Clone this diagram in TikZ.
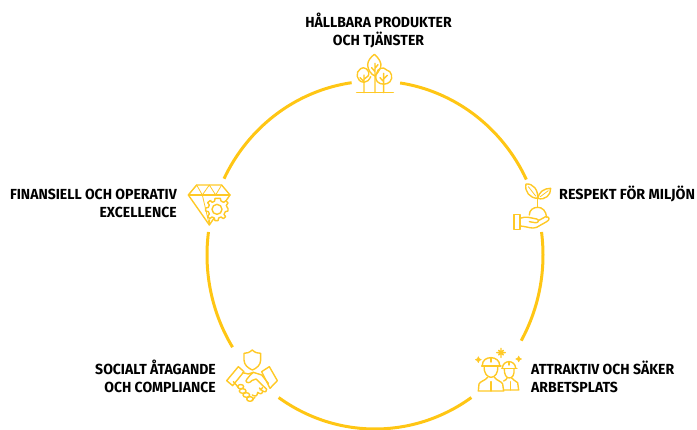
\documentclass[tikz,border=0pt]{standalone}
\usepackage{fontspec}
\setmainfont{Fira Sans}
\definecolor{ring}{HTML}{FFC614}
\definecolor{iconc}{HTML}{FFC926}
\tikzset{
  ringarc/.style={draw=ring,line width=3pt,line cap=butt},
  label/.style={font=\bfseries\fontsize{14.6}{18}\selectfont,text=black,inner sep=0pt},
  icon/.style={x=0.3333pt,y=-0.3333pt,draw=iconc,line width=1.4pt,line join=round,line cap=round},
}
\newcommand{\ringseg}[2]{\draw[ringarc,domain=#1:#2,samples=60,smooth,variable=\t] plot ({375+168*cos(\t)},{255+174*sin(\t)});}
\newcommand{\squeezed}[1]{\scalebox{0.96}[1]{#1}}
\begin{document}
\begin{tikzpicture}[x=1pt,y=-1pt]
\useasboundingbox (0,0) rectangle (697,430);
\ringseg{-81.4}{-25.7}
\ringseg{-7.6}{29.5}
\ringseg{55}{125}
\ringseg{148}{187.6}
\ringseg{206}{262}
\node[label,align=center] (top) at (378.5,30.5) {\squeezed{HÅLLBARA PRODUKTER}\\\squeezed{OCH TJÄNSTER}};
\node[label,anchor=west] (right) at (559,194) {\scalebox{0.98}[1]{RESPEKT FÖR MILJÖN}};
\node[label,align=left,anchor=west] (lowright) at (531,376.5) {\squeezed{ATTRAKTIV OCH SÄKER}\\\squeezed{ARBETSPLATS}};
\node[label,align=right,anchor=east] (lowleft) at (216,376) {\squeezed{SOCIALT ÅTAGANDE}\\\squeezed{OCH COMPLIANCE}};
\node[label,align=right,anchor=east] (left) at (177,203.5) {\squeezed{FINANSIELL OCH OPERATIV}\\\squeezed{EXCELLENCE}};
% trees
\begin{scope}[shift={(340,40)},icon]
\draw (50,158) -- (160,158);
\draw (72,158) -- (72,105) (72,125) -- (60,113) (72,118) -- (84,108);
\draw (85,108) .. controls (92,88) and (70,78) .. (62,86) .. controls (45,95) and (48,125) .. (72,127) .. controls (80,127) and (88,120) .. (92,110);
\draw (103,43) .. controls (92,52) and (83,62) .. (83,75) .. controls (83,90) and (95,105) .. (105,108) .. controls (112,100) and (118,92) .. (122,82) .. controls (127,70) and (115,52) .. (103,43);
\draw (105,158) -- (105,70) (105,95) -- (95,83) (105,85) -- (114,74);
\draw (110,100) .. controls (112,85) and (130,78) .. (140,90) .. controls (155,92) and (160,115) .. (150,125) .. controls (142,135) and (120,135) .. (112,125) .. controls (106,118) and (106,105) .. (110,100);
\draw (131,158) -- (131,100) (131,125) -- (120,113) (131,117) -- (142,106);
\end{scope}
% diamond and gear
\begin{scope}[shift={(175,170)},icon]
\draw (65,45) -- (140,45) -- (165,75) -- (103,165) -- (40,75) -- cycle;
\draw (40,75) -- (165,75);
\draw[line width=0.8pt] (40,75) -- (65,45) -- (82,75) -- (103,45) -- (122,75) -- (140,45);
\draw[line width=0.8pt] (82,75) -- (103,165) -- (108,90);
\draw[fill=white] (128,85)
 -- (136,85) -- (138,93) -- (146,97) -- (153,92) -- (159,99) -- (154,106) -- (157,113) -- (159,115)
 -- (159,123) -- (151,125) -- (147,133) -- (152,140) -- (145,146) -- (138,141) -- (131,144) -- (129,152)
 -- (120,152) -- (118,144) -- (111,141) -- (104,146) -- (98,139) -- (103,132) -- (100,125) -- (92,123)
 -- (92,114) -- (100,112) -- (103,105) -- (98,98) -- (105,92) -- (112,97) -- (119,93) -- (120,85) -- cycle;
\draw (126,118) circle[radius=15];
\end{scope}
% plant in hand
\begin{scope}[shift={(495,170)},icon]
\draw (128,112) -- (128,85);
\draw (128,85) .. controls (105,85) and (88,65) .. (93,42) .. controls (115,40) and (130,60) .. (128,85) -- cycle;
\draw (128,85) .. controls (132,65) and (148,55) .. (167,55) .. controls (168,75) and (150,92) .. (128,85);
\draw[line width=0.8pt] (100,50) -- (122,78) (160,62) -- (136,80);
\draw (103,135) .. controls (103,120) and (115,112) .. (128,112) .. controls (142,112) and (153,122) .. (155,142);
\draw (57,133) rectangle (75,178);
\draw (75,145) .. controls (85,142) and (92,140) .. (100,142) -- (125,147) .. controls (135,150) and (130,160) .. (120,158) -- (103,155);
\draw (130,152) -- (152,140) .. controls (165,140) and (165,150) .. (155,155) -- (125,172) .. controls (110,178) and (100,170) .. (75,168);
\end{scope}
% workers
\begin{scope}[shift={(465,340)},icon]
\draw (108,25) -- (108,52) (95,38) -- (121,38) (101,31) -- (115,45) (115,31) -- (101,45);
\draw[fill=iconc,line width=0.5pt] (40,50) -- (43,56) -- (49,59) -- (43,62) -- (40,68) -- (37,62) -- (31,59) -- (37,56) -- cycle;
\draw[fill=iconc,line width=0.5pt] (161,48) -- (164,54) -- (170,57) -- (164,60) -- (161,66) -- (158,60) -- (152,57) -- (158,54) -- cycle;
\draw (52,76) .. controls (52,60) and (65,53) .. (78,53) .. controls (92,53) and (104,62) .. (104,76);
\draw (50,78) -- (108,78) (78,53) -- (78,66);
\draw (58,78) .. controls (55,100) and (68,112) .. (78,112) .. controls (90,112) and (100,100) .. (98,78);
\draw (68,112) .. controls (60,122) and (45,124) .. (42,132) -- (40,153) -- (116,153) -- (113,132) .. controls (110,124) and (95,122) .. (88,112);
\draw (78,125) -- (78,153);
\draw (112,84) .. controls (113,72) and (122,65) .. (132,65) .. controls (143,65) and (151,73) .. (152,84);
\draw (110,86) -- (156,86) (132,65) -- (132,75);
\draw (118,86) .. controls (117,105) and (125,114) .. (133,114) .. controls (142,114) and (149,105) .. (147,86);
\draw (116,123) .. controls (122,120) and (125,118) .. (126,114) (140,114) .. controls (142,120) and (153,122) .. (158,128) -- (161,150) -- (116,150);
\draw (136,125) -- (136,150);
\end{scope}
% handshake
\begin{scope}[shift={(220,340)},icon]
\draw (97,30) .. controls (88,38) and (80,40) .. (72,40) -- (72,60) .. controls (72,75) and (85,85) .. (97,90) .. controls (110,85) and (122,75) .. (122,60) -- (122,40) .. controls (112,40) and (105,38) .. (97,30) -- cycle;
\draw (20,122) -- (55,80) -- (72,95) -- (38,137) -- cycle;
\draw (125,95) -- (148,80) -- (172,122) -- (150,145) -- cycle;
\draw (68,98) -- (85,102) -- (100,97) -- (125,105) -- (145,130);
\draw (100,97) .. controls (90,105) and (82,115) .. (78,122) .. controls (78,130) and (90,130) .. (95,122) -- (108,117) -- (140,148) .. controls (142,155) and (135,158) .. (128,153) -- (118,144);
\draw (128,153) .. controls (127,163) and (120,163) .. (113,157) (113,157) .. controls (112,170) and (105,170) .. (97,165);
\draw (40,125) -- (55,142);
\draw (62,140) ellipse[x radius=9,y radius=6.5];
\draw (68,153) ellipse[x radius=10,y radius=7];
\draw (79,165) ellipse[x radius=10,y radius=7];
\draw (90,177) ellipse[x radius=10,y radius=7];
\draw (96,180) -- (105,172) (120,150) -- (128,143);
\end{scope}
\end{tikzpicture}
\end{document}
